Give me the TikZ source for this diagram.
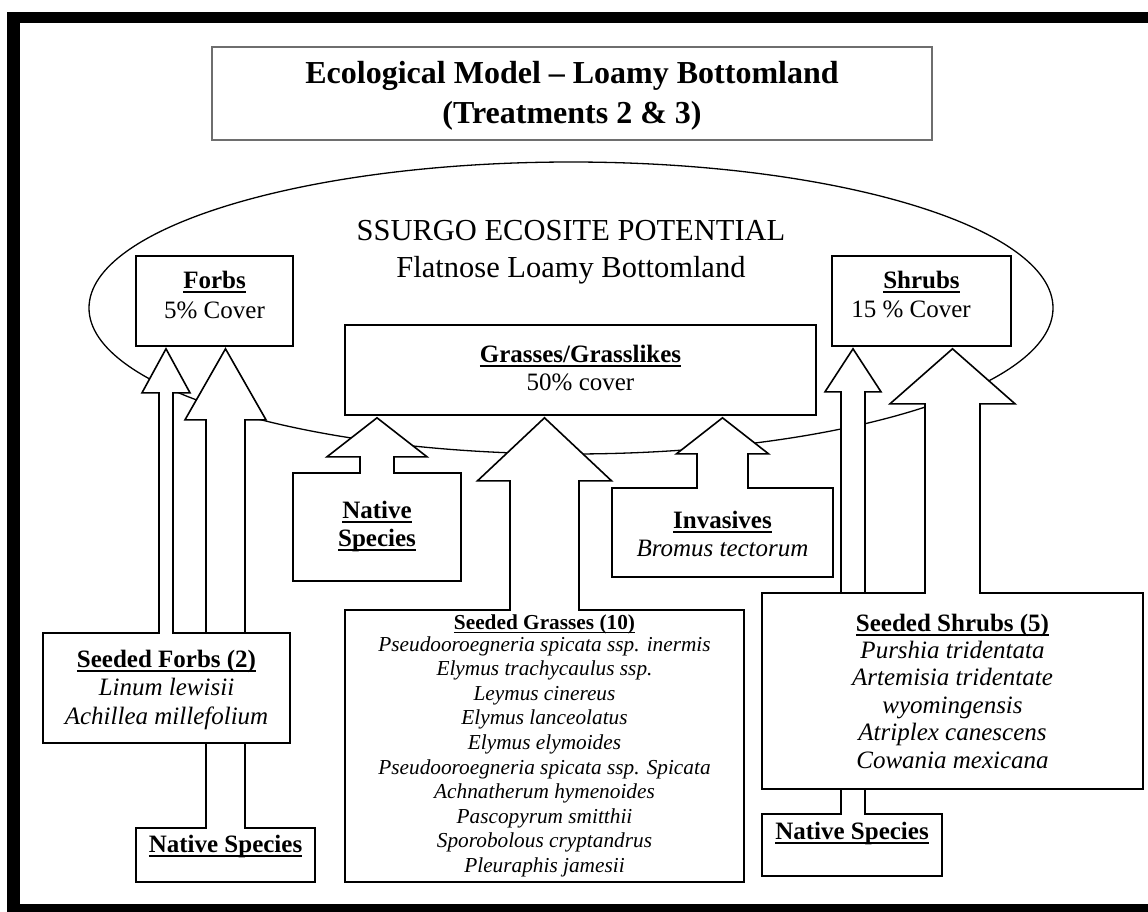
\documentclass[tikz,border=0pt]{standalone}
\usepackage{fontspec}
\setmainfont{Liberation Serif}
\usetikzlibrary{calc}

\newsavebox{\headBox}
\newcommand{\boxHead}[1]{{\bfseries\sbox{\headBox}{#1}\rlap{\rule[-0.19em]{\wd\headBox}{0.055em}}\usebox{\headBox}}}
\newcommand{\boxLines}[1]{\begin{tabular}[t]{@{}c@{}}#1\end{tabular}}

% Block arrow: source, target, centre x, head half width, shaft half width, head length
\newcommand{\blockArrow}[6]{%
    \filldraw[arrowBody] let \p1=(#1.north), \p2=(#2.south), \p3=(#3,0) in
        (\x3+#5pt,\y1-1.6pt) -- (\x3+#5pt,\y2-#6pt-2pt) -- (\x3+#4pt,\y2-#6pt-2pt)
        -- (\x3,\y2-2pt) -- (\x3-#4pt,\y2-#6pt-2pt) -- (\x3-#5pt,\y2-#6pt-2pt)
        -- (\x3-#5pt,\y1-1.6pt);
}

\begin{document}
\begin{tikzpicture}[x=1pt, y=-1pt,
    box/.style={draw, line width=1.6pt, fill=white, inner sep=0pt, anchor=base,
        font=\fontsize{25}{28}\selectfont},
    titleBox/.style={draw=titleBorder, line width=1.1pt, fill=white, inner sep=0pt, anchor=base,
        font=\fontsize{32}{40}\selectfont\bfseries},
    arrowBody/.style={draw=black, fill=white, line width=1.6pt, line join=miter}]

    \definecolor{frameColour}{HTML}{000000}
    \definecolor{titleBorder}{HTML}{6E6E6E}

    \useasboundingbox (0,0) rectangle (1148,911);

    % Draw frame
    \fill[frameColour] (7,12) rectangle (1170,930);
    \fill[white] (20,23) rectangle (1160,904);

    % Draw title
    \node[titleBox, minimum width=720pt, text height=36pt, text depth=57pt] (title) at (572,83)
        {\boxLines{Ecological Model – Loamy Bottomland\\(Treatments 2 \& 3)}};

    % Draw ecosite ellipse
    \draw[line width=1.3pt] (571,308) ellipse [x radius=482pt, y radius=146pt];
    \node[anchor=base, inner sep=0pt, font=\fontsize{30.5}{37}\selectfont] (potential) at (571,240)
        {\boxLines{SSURGO ECOSITE POTENTIAL\\Flatnose Loamy Bottomland}};

    % Potential cover boxes
    \node[box, minimum width=157pt, text height=32pt, text depth=58pt, font=\fontsize{25}{30}\selectfont]
        (forbs) at (214.5,288) {\boxLines{\boxHead{Forbs}\\5\% Cover}};
    \node[box, minimum width=179pt, text height=32pt, text depth=58pt, font=\fontsize{25}{29}\selectfont]
        (shrubs) at (921.5,288) {\boxLines{\boxHead{Shrubs}\\15 \% Cover\kern21pt}};
    \node[box, minimum width=471pt, text height=37pt, text depth=53pt]
        (grasses) at (580.5,362) {\boxLines{\boxHead{Grasses/Grasslikes}\\50\% cover}};

    % Forbs sources
    \node[box, minimum width=179pt, text height=24pt, text depth=30pt]
        (nativeLeft) at (225.5,852) {\boxLines{\boxHead{Native Species}}};
    \blockArrow{nativeLeft}{forbs}{225.5}{40.5}{19.5}{71}
    \node[box, minimum width=247pt, text height=34pt, text depth=76pt, font=\fontsize{25}{28.5}\selectfont]
        (seededForbs) at (166.5,667)
        {\boxLines{\boxHead{Seeded Forbs (2)}\\\textit{Linum lewisii}\\\textit{Achillea millefolium}}};
    \blockArrow{seededForbs}{forbs}{166}{24}{7}{44}

    % Shrubs sources
    \node[box, minimum width=180pt, text height=25pt, text depth=37pt]
        (nativeRight) at (852,839) {\boxLines{\boxHead{Native Species}}};
    \blockArrow{nativeRight}{shrubs}{853}{28}{12}{43}
    \node[box, minimum width=381pt, text height=38pt, text depth=158pt, font=\fontsize{25}{27.4}\selectfont]
        (seededShrubs) at (952.5,631)
        {\boxLines{\boxHead{Seeded Shrubs (5)}\\\textit{Purshia tridentata}\\\textit{Artemisia tridentate}\\
        \textit{wyomingensis}\\\textit{Atriplex canescens}\\\textit{Cowania mexicana}}};
    \blockArrow{seededShrubs}{shrubs}{952.5}{62.5}{27.5}{55}

    % Grasses sources
    \node[box, minimum width=168pt, text height=45pt, text depth=63pt]
        (nativeMid) at (377,518) {\boxLines{\boxHead{Native}\\\boxHead{Species}}};
    \node[box, minimum width=221pt, text height=40pt, text depth=49pt]
        (invasives) at (722.5,528) {\boxLines{\boxHead{Invasives}\\\textit{Bromus tectorum}}};
    \node[box, minimum width=399pt, text height=19pt, text depth=253pt, font=\fontsize{21.3}{24.6}\selectfont]
        (seededGrasses) at (544.5,629)
        {\boxLines{\boxHead{Seeded Grasses (10)}\\[-2.6pt]
        \textit{Pseudooroegneria spicata ssp. inermis}\\\textit{Elymus trachycaulus ssp.}\\
        \textit{Leymus cinereus}\\\textit{Elymus lanceolatus}\\\textit{Elymus elymoides}\\
        \textit{Pseudooroegneria spicata ssp. Spicata}\\\textit{Achnatherum hymenoides}\\
        \textit{Pascopyrum smitthii}\\\textit{Sporobolous cryptandrus}\\\textit{Pleuraphis jamesii}}};
    \blockArrow{nativeMid}{grasses}{377}{50}{17}{39}
    \blockArrow{seededGrasses}{grasses}{544.5}{67}{34.5}{63}
    \blockArrow{invasives}{grasses}{722.5}{46}{25.5}{36}

\end{tikzpicture}
\end{document}
